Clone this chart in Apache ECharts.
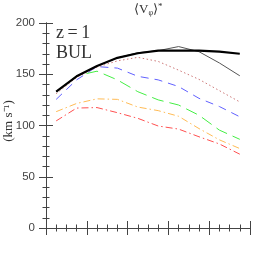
<!DOCTYPE html>
<html><head><meta charset="utf-8">
<script src="https://cdn.jsdelivr.net/npm/echarts@6/dist/echarts.min.js"></script>
<style>html,body{margin:0;padding:0;background:#fff}#c{width:273px;height:273px}</style>
</head><body><div id="c"></div>
<script>
const xPos = [0.25,0.75,1.25,1.75,2.25,2.75,3.25,3.75,4.25,4.75];
const blackThick = [133,148,158,166,170.5,173,173,173,172,170];
const blackThin  = [133,148,158,166,171,173,177,172,161,148.5];
const dotted     = [131,147,157,163,166.5,162.5,154,145,134,123];
const blueDash   = [125.5,144.5,157.5,156,148,144.5,138,126.5,118.5,108.5];
const greenDash  = [133,148.5,153,144.5,133,125,120,110,95.5,86.5];
const orangeDD   = [113.5,121.5,126,125.5,118,114.5,109,97,86,77.5];
const redDD      = [104.5,117,117.5,112.5,107,99.5,96.5,89,82,72];
const yTicks = [0,50,100,150,200];

const pair = a => a.map((v,i)=>[xPos[i],v]);
function ser(data,color,width,type,z){
  return {type:'line',data:pair(data),symbol:'none',z:z||2,
    lineStyle:{color:color,width:width,type:type}};
}
const axisCol='#444';
const chart = echarts.init(document.getElementById('c'),null,{renderer:'canvas'});
const xBase = {type:'value',min:0,max:5,interval:1,
  axisLine:{show:true,lineStyle:{color:axisCol,width:1}},
  axisTick:{show:true,inside:true,length:7,lineStyle:{color:axisCol}},
  minorTick:{show:true,splitNumber:4,length:3.5,lineStyle:{color:axisCol}},
  axisLabel:{show:false},splitLine:{show:false}};
const yBase = {type:'value',min:0,max:200,interval:50,
  axisLine:{show:true,lineStyle:{color:axisCol,width:1}},
  axisTick:{show:true,inside:true,length:7,lineStyle:{color:axisCol}},
  minorTick:{show:true,splitNumber:5,length:3.5,lineStyle:{color:axisCol}},
  splitLine:{show:false}};
chart.setOption({
  animation:false,
  grid:{left:46,right:23,top:23,bottom:45},
  xAxis:[Object.assign({position:'bottom'},xBase),Object.assign({position:'top'},xBase)],
  yAxis:[Object.assign({position:'left',axisLabel:{show:true,color:'#444',fontSize:11.5,fontFamily:'Liberation Sans',margin:11,
      formatter:v=>yTicks.includes(v)?String(v):''}},yBase),
    Object.assign({position:'right',axisLabel:{show:false}},yBase)],
  series:[
    ser(redDD,'#ff5050',1,[7,3,1.5,3]),
    ser(orangeDD,'#ffbb55',1,[7,3,1.5,3]),
    ser(greenDash,'#44ee44',1,[12,6]),
    ser(blueDash,'#6060ff',1,[8,6]),
    ser(dotted,'#cc7777',1,[1.5,2.5]),
    ser(blackThin,'#555',1,'solid',3),
    ser(blackThick,'#000',2.2,'solid',4)
  ],
  graphic:[
    {type:'text',left:56,top:24,style:{text:'z\u2009=\u20091',font:'18px "Liberation Serif"',fill:'#333'}},
    {type:'text',left:56,top:44,style:{text:'BUL',font:'18px "Liberation Serif"',fill:'#333'}},
    {type:'text',x:134,y:2,style:{text:'⟨V{s|φ}⟩{p|*}',font:'13px "Liberation Serif"',fill:'#333',
      rich:{s:{fontSize:8,padding:[7,0,0,0],fontFamily:'Liberation Serif'},p:{fontSize:9,padding:[0,0,5,0],fontFamily:'Liberation Serif'}}}},
    {type:'text',x:9,y:121,rotation:Math.PI/2,style:{text:'(km s⁻¹)',font:'13px "Liberation Serif"',fill:'#333',align:'center',verticalAlign:'middle'}}
  ]
});
</script></body></html>
